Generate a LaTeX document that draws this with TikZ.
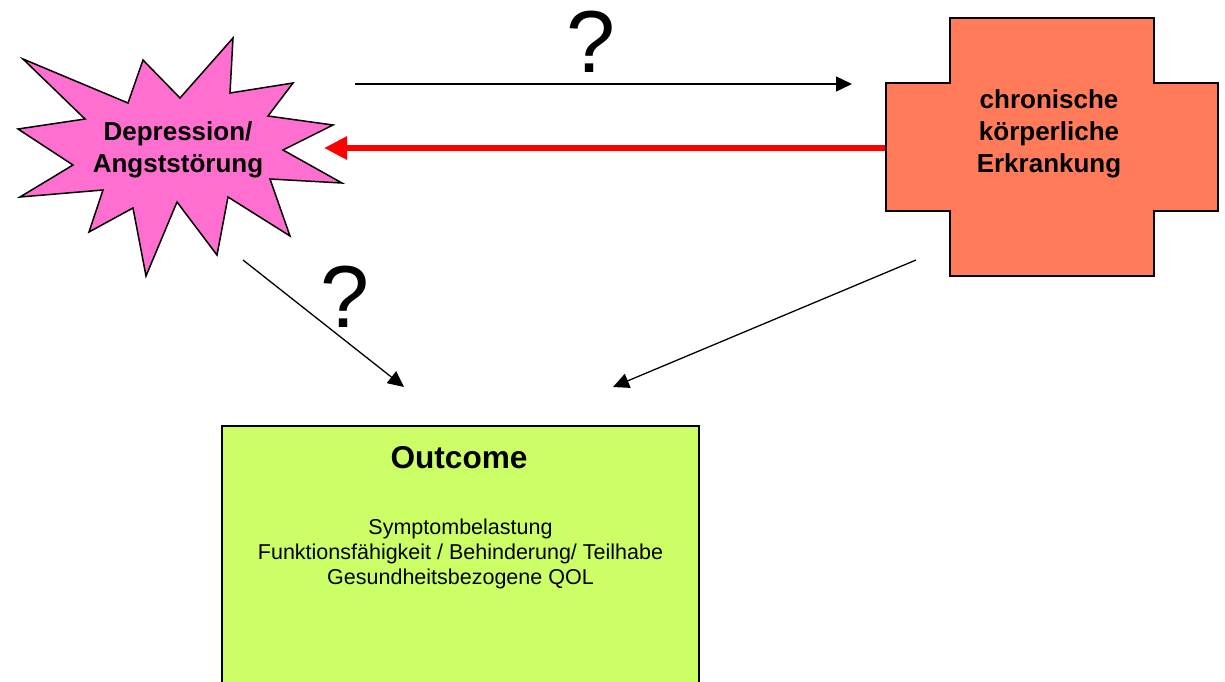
\documentclass[tikz,border=0pt]{standalone}
\usepackage{fontspec}
\setmainfont{Liberation Sans}
\usetikzlibrary{arrows.meta}
\definecolor{starpink}{HTML}{FF6FCF}
\definecolor{crosscoral}{HTML}{FF7B5A}
\definecolor{outgreen}{HTML}{CCFF66}
\definecolor{arrred}{HTML}{FF0000}
\tikzset{
  shapeline/.style={draw=black, line width=1.5pt, line join=miter},
  bigtext/.style={font=\fontsize{26}{32}\selectfont\bfseries, align=center, inner sep=0pt},
  smalltext/.style={font=\fontsize{21.5}{25}\selectfont, align=center, inner sep=0pt},
  titletext/.style={font=\fontsize{31.6}{36}\selectfont\bfseries, inner sep=0pt},
  qmark/.style={font=\fontsize{88}{90}\selectfont, inner sep=0pt, anchor=base},
  thinarrow/.style={draw=black, line width=1.3pt, -{Triangle[length=16pt,width=15pt]}},
  redarrow/.style={draw=arrred, line width=6pt, -{Triangle[length=23pt,width=22pt]}},
}
\begin{document}
\begin{tikzpicture}[x=1pt,y=-1pt]
\useasboundingbox (0,0) rectangle (1225,681);
% star
\filldraw[shapeline, fill=starpink]
  (23,59) -- (128,103) -- (143,60) -- (180,98) -- (233,38) -- (230,93)
  -- (293,83) -- (268,116) -- (333,125) -- (283,150) -- (342,183)
  -- (270,179) -- (290,236) -- (228,197) -- (217,255) -- (177,202)
  -- (146,276) -- (133,208) -- (89,232) -- (103,190) -- (20,197)
  -- (73,165) -- (18,129) -- (85,119) -- cycle;
\node[bigtext] (dep) at (178,150) {Depression/\\Angststörung};
% cross
\filldraw[shapeline, fill=crosscoral]
  (950,18) -- (1154,18) -- (1154,83) -- (1218,83) -- (1218,211) -- (1154,211)
  -- (1154,276) -- (950,276) -- (950,211) -- (886,211) -- (886,83) -- (950,83) -- cycle;
\node[bigtext] (chron) at (1049,133.5) {chronische\\körperliche\\Erkrankung};
% outcome box (runs past the lower edge)
\fill[outgreen] (222,426) rectangle (699,690);
\draw[line width=1.5pt] (222,690) -- (222,426) -- (699,426) -- (699,690);
\node[titletext, anchor=base] (outt) at (459,468) {Outcome};
\node[smalltext] (outl) at (460.5,554.4) {Symptombelastung\\Funktionsfähigkeit / Behinderung/ Teilhabe\\Gesundheitsbezogene QOL};
% question marks
\node[qmark] (q1) at (591,72) {?};
\node[qmark] (q2) at (345,327) {?};
% arrow end points
\coordinate (a1s) at (355,84);
\coordinate (a1e) at (852,84);
\coordinate (a2s) at (885,148);
\coordinate (a2e) at (324,148);
\coordinate (a3s) at (243,260);
\coordinate (a3e) at (404,387);
\coordinate (a4s) at (916,260);
\coordinate (a4e) at (613,387);
\draw[thinarrow] (a1s) -- (a1e);
\draw[redarrow] (a2s) -- (a2e);
\draw[thinarrow] (a3s) -- (a3e);
\draw[thinarrow] (a4s) -- (a4e);
\end{tikzpicture}
\end{document}
